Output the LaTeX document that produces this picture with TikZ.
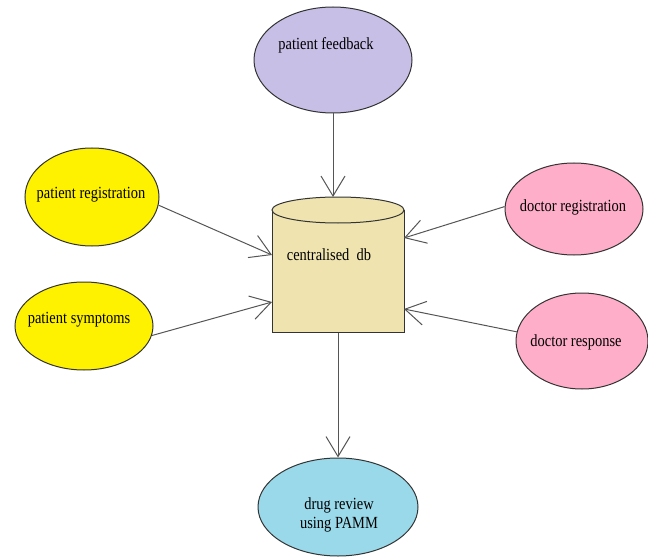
\documentclass[tikz,border=0pt]{standalone}
\usepackage{fontspec}
\usepackage{graphicx}
\setmainfont{Liberation Serif}
\usetikzlibrary{shapes.geometric,arrows.meta}
\definecolor{lav}{HTML}{C8BFE7}
\definecolor{yel}{HTML}{FFF200}
\definecolor{rose}{HTML}{FFAEC9}
\definecolor{turq}{HTML}{99D9EA}
\definecolor{cream}{HTML}{EFE4B0}
\definecolor{edge}{HTML}{333333}
\definecolor{arr}{HTML}{555555}
\newcommand\sqz[1]{\scalebox{0.85}[1]{#1}}
\tikzset{
  bubble/.style={ellipse, draw=edge, line width=1pt, inner sep=0pt},
  lbl/.style={font=\fontsize{17}{19}\selectfont, inner sep=0pt, text=black},
  flow/.style={draw=arr, line width=1pt, -{Straight Barb[length=20pt,width=24pt,line width=1pt]}}
}
\begin{document}
\begin{tikzpicture}[x=1pt,y=-1pt]
\useasboundingbox (0,0) rectangle (648,559);
% ellipses
\node[bubble, fill=lav, minimum width=158pt, minimum height=106pt] (pf) at (333,60) {};
\node[lbl] (pft) at (326,45) {\sqz{patient feedback}};
\node[bubble, fill=yel, minimum width=134pt, minimum height=98pt] (pr) at (92,197) {};
\node[lbl] (prt) at (91,195) {\sqz{patient registration}};
\node[bubble, fill=yel, minimum width=138pt, minimum height=88pt] (ps) at (84,326) {};
\node[lbl] (pst) at (79,320) {\sqz{patient symptoms}};
\node[bubble, fill=rose, minimum width=138pt, minimum height=92pt] (dr) at (574,209) {};
\node[lbl] (drt) at (573,207) {\sqz{doctor registration}};
\node[bubble, fill=rose, minimum width=132pt, minimum height=96pt] (dp) at (582,341) {};
\node[lbl] (dpt) at (576,342) {\sqz{doctor response}};
\node[bubble, fill=turq, minimum width=160pt, minimum height=98pt] (dg) at (338,507) {};
\node[lbl] (dgt) at (339,515) {\sqz{\begin{tabular}{@{}c@{}}drug review\\using PAMM\end{tabular}}};
% cylinder
\node[draw=edge, line width=1pt, fill=cream, minimum width=132pt, minimum height=122pt, inner sep=0pt] (db) at (338,271) {};
\node[bubble, fill=cream, minimum width=132pt, minimum height=26pt] (dbtop) at (338,210) {};
\node[lbl] (dbt) at (329,255) {\sqz{centralised\ \ db}};
\coordinate (dbL1) at (272,255);
\coordinate (dbL2) at (272,302);
\coordinate (dbR1) at (404,238);
\coordinate (dbR2) at (404,309);
\coordinate (dbT) at (333,197);
% connectors
\draw[flow] (pf.south) -- (dbT);
\draw[flow] (pr.-7) -- (dbL1);
\draw[flow] (ps.-8) -- (dbL2);
\draw[flow] (dr.178) -- (dbR1);
\draw[flow] (dp.172) -- (dbR2);
\draw[flow] (db.south) -- (dg.north);
\end{tikzpicture}
\end{document}
